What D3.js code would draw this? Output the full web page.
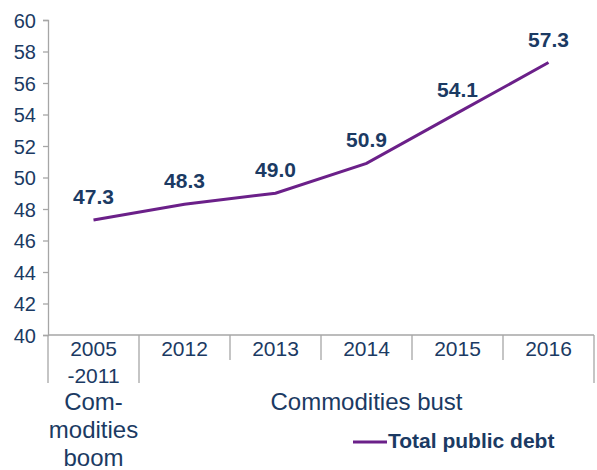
<!DOCTYPE html>
<html>
<head>
<meta charset="utf-8">
<script src="https://cdn.jsdelivr.net/npm/d3@7"></script>
<style>
  body { margin: 0; background: #fff; }
  svg { font-family: "Liberation Sans", Arial, sans-serif; }
</style>
</head>
<body>
<div id="chart"></div>
<script>
// data
const categories = ["2005\n-2011", "2012", "2013", "2014", "2015", "2016"]
const debt = [47.3, 48.3, 49.0, 50.9, 54.1, 57.3]
const yTicks = [40, 42, 44, 46, 48, 50, 52, 54, 56, 58, 60]
const groups = [
    {name: "Com-\nmodities\nboom", from: 0, to: 0},
    {name: "Commodities bust", from: 1, to: 5}
]
const seriesName = "Total public debt"

const width = 597, height = 470
const navy = "#1b3a63", purple = "#6b2089", grey = "#a6a6a6"
const plotLeft = 48, plotRight = 594, plotTop = 20, plotBottom = 335

const svg = d3.select("#chart").append("svg")
    .attr("width", width)
    .attr("height", height)

const x = d3.scaleBand()
    .domain(categories)
    .range([plotLeft, plotRight])

const y = d3.scaleLinear()
    .domain([40, 60])
    .range([plotBottom, plotTop])

// y axis
const yAxis = svg.append("g")
    .attr("transform", `translate(${plotLeft},0)`)
    .call(d3.axisLeft(y).tickValues(yTicks).tickSize(5).tickPadding(7))
yAxis.select(".domain").attr("stroke", grey).attr("stroke-width", 1.3)
yAxis.selectAll(".tick line").attr("stroke", grey).attr("stroke-width", 1.3)
yAxis.selectAll(".tick text")
    .attr("fill", navy)
    .attr("dy", "0.36em")
    .style("font-size", "20px")
    .style("font-family", "Liberation Sans, Arial, sans-serif")

// x axis base line
svg.append("line")
    .attr("x1", plotLeft).attr("x2", plotRight)
    .attr("y1", plotBottom).attr("y2", plotBottom)
    .attr("stroke", grey).attr("stroke-width", 1.3)

// separators between categories; group edges go deeper
const edges = d3.range(categories.length + 1)
const groupEdges = new Set()
groups.forEach(g => { groupEdges.add(g.from); groupEdges.add(g.to + 1) })
svg.append("g").selectAll("line")
    .data(edges)
    .join("line")
    .attr("x1", i => plotLeft + i * x.step())
    .attr("x2", i => plotLeft + i * x.step())
    .attr("y1", plotBottom)
    .attr("y2", i => groupEdges.has(i) ? 383 : 360)
    .attr("stroke", grey).attr("stroke-width", 1.3)

// category labels
const catText = svg.append("g").selectAll("text")
    .data(categories)
    .join("text")
    .attr("text-anchor", "middle")
    .attr("fill", navy)
    .style("font-size", "21px")
catText.selectAll("tspan")
    .data(d => d.split("\n").map(s => ({s, c: d})))
    .join("tspan")
    .attr("x", d => x(d.c) + x.bandwidth() / 2)
    .attr("y", (d, i) => 356 + i * 27)
    .text(d => d.s)

// group labels
const grpText = svg.append("g").selectAll("text")
    .data(groups)
    .join("text")
    .attr("text-anchor", "middle")
    .attr("fill", navy)
    .style("font-size", "24px")
grpText.selectAll("tspan")
    .data(g => g.name.split("\n").map(s => ({s, g})))
    .join("tspan")
    .attr("x", d => (x(categories[d.g.from]) + x(categories[d.g.to]) + x.bandwidth()) / 2)
    .attr("y", (d, i) => 410 + i * 28)
    .text(d => d.s)

// the line
const line = d3.line()
    .x((d, i) => x(categories[i]) + x.bandwidth() / 2)
    .y(d => y(d))
svg.append("path")
    .datum(debt)
    .attr("fill", "none")
    .attr("stroke", purple)
    .attr("stroke-width", 3)
    .attr("d", line)

// value labels
svg.append("g").selectAll("text")
    .data(debt)
    .join("text")
    .attr("x", (d, i) => x(categories[i]) + x.bandwidth() / 2)
    .attr("y", d => y(d) - 16)
    .attr("text-anchor", "middle")
    .attr("fill", navy)
    .style("font-size", "21px")
    .style("font-weight", "bold")
    .text(d => d.toFixed(1))

// legend
const legend = svg.append("g").attr("transform", "translate(353,442)")
legend.append("line")
    .attr("x1", 0).attr("x2", 34)
    .attr("stroke", purple).attr("stroke-width", 3)
legend.append("text")
    .attr("x", 35).attr("y", 6)
    .attr("fill", navy)
    .style("font-size", "21px")
    .style("font-weight", "bold")
    .text(seriesName)
</script>
</body>
</html>
